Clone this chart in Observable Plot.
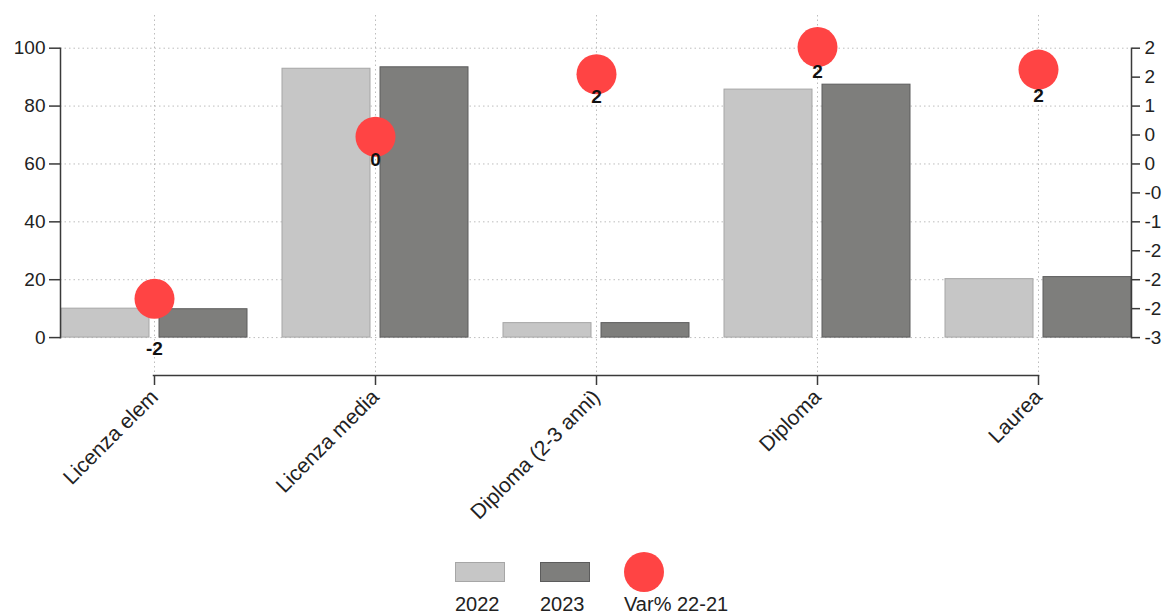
<!DOCTYPE html>
<html>
<head>
<meta charset="utf-8">
<script src="https://cdn.jsdelivr.net/npm/d3@7"></script>
<script src="https://cdn.jsdelivr.net/npm/@observablehq/plot@0.6"></script>
<style>
  body { margin: 0; background: #fff; font-family: "Liberation Sans", Arial, sans-serif; }
  #chart svg { display: block; }
  .legend { position: relative; width: 1165px; height: 69px; }
  .item { position: absolute; top: 7px; text-align: left; color: #222; font-size: 20px; white-space: nowrap; }
  .icon { height: 40px; display: flex; align-items: center; justify-content: flex-start; }
  .sw { display: inline-block; width: 48px; height: 18px; box-sizing: content-box; }
  .dotsw { display: inline-block; width: 40px; height: 40px; border-radius: 50%; }
  .lab { line-height: 24px; }
</style>
</head>
<body>
<div id="chart"></div>
<div class="legend" id="legend"></div>
<script>
const categories = ["Licenza elem", "Licenza media", "Diploma (2-3 anni)", "Diploma", "Laurea"];
const years = ["2022", "2023"];
const values2022 = [10.0, 92.9, 5.0, 85.7, 20.2];
const values2023 = [9.8, 93.4, 5.0, 87.4, 20.9];
const varName = "Var% 22-21";
const varChange = [-2.33, 0.47, 1.55, 2.02, 1.63];
const varLabels = ["-2", "0", "2", "2", "2"];
const varLabelAt = [-3.2, 0.07, 1.15, 1.59, 1.18];
const leftTicks = [0, 20, 40, 60, 80, 100];
const rightTicks = [-3, -2.5, -2, -1.5, -1, -0.5, 0, 0.5, 1, 1.5, 2];
const rightTickLabels = ["-3", "-2", "-2", "-2", "-1", "-0", "0", "0", "1", "2", "2"];

const colors = { "2022": "#c6c6c6", "2023": "#7e7e7c" };
const strokes = { "2022": "#a6a6a6", "2023": "#5c5c5c" };
const red = "#ff4444";

// map the right axis onto the left (primary) scale
const rMin = rightTicks[0], rMax = rightTicks[rightTicks.length - 1];
const toLeft = v => (v - rMin) / (rMax - rMin) * 100;

const rows = categories.map((c, i) => ({
  cat: c,
  v22: values2022[i],
  v23: values2023[i],
  vr: toLeft(varChange[i]),
  lab: varLabels[i],
  labY: toLeft(varLabelAt[i])
}));

const axisColor = "#3a3a3a";
const gridStyle = { stroke: "#bdbdbd", strokeOpacity: 1, strokeDasharray: "1.5,3", strokeWidth: 1 };

const chart = Plot.plot({
  width: 1165,
  height: 545,
  marginLeft: 60,
  marginRight: 34,
  marginTop: 15,
  marginBottom: 170,
  style: { fontFamily: "'Liberation Sans', Arial, sans-serif", fontSize: "19px", color: "#222", background: "#fff" },
  x: { type: "band", domain: categories, paddingInner: 0.16, paddingOuter: 0, label: null },
  y: { domain: [-13.1, 111.3], label: null },
  marks: [
    Plot.gridY(leftTicks, gridStyle),
    Plot.gridX(categories, gridStyle),
    Plot.barY(rows, { x: "cat", y: "v22", fill: colors["2022"], stroke: strokes["2022"], strokeWidth: 1, insetRight: 98 }),
    Plot.barY(rows, { x: "cat", y: "v23", fill: colors["2023"], stroke: strokes["2023"], strokeWidth: 1, insetLeft: 98 }),
    Plot.frame({ anchor: "left", insetTop: 32.7, insetBottom: 37.8, stroke: axisColor, strokeWidth: 1.5 }),
    Plot.frame({ anchor: "right", insetTop: 32.7, insetBottom: 37.8, stroke: axisColor, strokeWidth: 1.5 }),
    Plot.frame({ anchor: "bottom", insetLeft: 93, insetRight: 93, stroke: axisColor, strokeWidth: 1.5 }),
    Plot.axisY(leftTicks, { anchor: "left", tickSize: 11, tickPadding: 4, stroke: axisColor, strokeWidth: 1.5, fill: "#222", fontSize: 19, label: null }),
    Plot.axisY(rightTicks.map(toLeft), { anchor: "right", tickSize: 8, tickPadding: 5, stroke: axisColor, strokeWidth: 1.5, fill: "#222", fontSize: 19, label: null,
      tickFormat: d => rightTickLabels[rightTicks.findIndex(t => Math.abs(toLeft(t) - d) < 1e-6)] }),
    Plot.axisX({ anchor: "bottom", tickSize: 10, tickPadding: 8, tickRotate: -45, stroke: axisColor, strokeWidth: 1.5, fill: "#222", fontSize: 21, label: null }),
    Plot.dot(rows, { x: "cat", y: "vr", r: 20, fill: red, stroke: "none" }),
    Plot.text(rows, { x: "cat", y: "labY", text: "lab", fontSize: 19, fontWeight: "bold", fill: "#111" })
  ]
});
document.getElementById("chart").appendChild(chart);

// legend
const legend = document.getElementById("legend");
const legendItems = [
  { label: years[0], kind: "bar", fill: colors["2022"], stroke: strokes["2022"], left: 455 },
  { label: years[1], kind: "bar", fill: colors["2023"], stroke: strokes["2023"], left: 540 },
  { label: varName, kind: "dot", fill: red, left: 624 }
];
for (const it of legendItems) {
  const div = document.createElement("div");
  div.className = "item";
  div.style.left = it.left + "px";
  const icon = document.createElement("div");
  icon.className = "icon";
  const s = document.createElement("span");
  if (it.kind === "bar") {
    s.className = "sw";
    s.style.background = it.fill;
    s.style.border = "1px solid " + it.stroke;
  } else {
    s.className = "dotsw";
    s.style.background = it.fill;
  }
  icon.appendChild(s);
  const lab = document.createElement("div");
  lab.className = "lab";
  lab.textContent = it.label;
  div.appendChild(icon);
  div.appendChild(lab);
  legend.appendChild(div);
}
</script>
</body>
</html>
